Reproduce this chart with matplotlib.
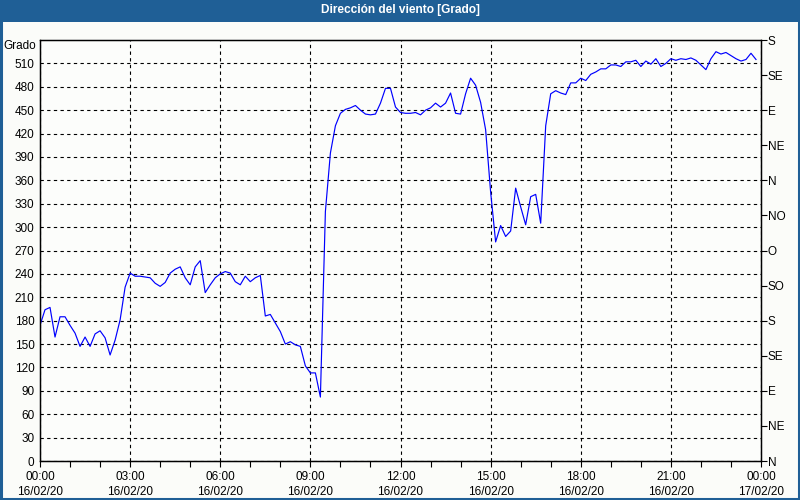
import numpy as np
import pandas as pd
import matplotlib
matplotlib.use("Agg")
import matplotlib.pyplot as plt
import matplotlib.dates as mdates
from matplotlib.patches import Rectangle

title = "Dirección del viento [Grado]"
y_label = "Grado"
start = "2020-02-16 00:00"
# wind direction (degrees, unwrapped), 10-minute samples
direction = [
    174, 194, 197, 159, 185, 185, 174, 164, 147, 159, 147, 163, 167, 158, 136, 155,
    181, 223, 241, 237, 237, 236, 235, 228, 224, 229, 241, 246, 249, 235, 226, 249,
    257, 216, 226, 235, 240, 243, 241, 230, 226, 237, 230, 235, 238, 186, 188, 177,
    166, 150, 153, 149, 147, 122, 113, 113, 82, 320, 395, 430, 446, 451, 453, 456,
    450, 445, 444, 445, 459, 478, 478, 454, 447, 446, 446, 447, 444, 450, 453, 459,
    454, 459, 472, 446, 445, 471, 491, 482, 460, 425, 345, 281, 302, 288, 295, 350,
    326, 303, 339, 342, 305, 430, 471, 475, 472, 470, 485, 485, 491, 488, 496, 499,
    503, 503, 508, 508, 506, 512, 512, 514, 506, 513, 509, 516, 506, 510, 516, 514,
    516, 515, 517, 514, 508, 502, 516, 525, 522, 524, 520, 516, 513, 515, 523, 515,
]
left_ticks = list(range(0, 511, 30))
right_ticks = list(range(0, 541, 45))
right_labels = ["N", "NE", "E", "SE", "S", "SO", "O", "NO", "N", "NE", "E", "SE", "S"]

times = pd.date_range(start, periods=len(direction), freq="10min")
t0 = pd.Timestamp(start)
t1 = t0 + pd.Timedelta(hours=24)

plt.rcParams['font.family'] = ['Liberation Sans', 'DejaVu Sans']
fig = plt.figure(figsize=(8, 5), dpi=100, facecolor="#FBFCF9")
blue_bar = "#1F5F96"
fig.patches.append(Rectangle((0, 1 - 22/500), 1, 22/500, transform=fig.transFigure,
                             facecolor=blue_bar, edgecolor="none", zorder=0))
fig.patches.append(Rectangle((0.001, 0.002), 0.998, 0.997, transform=fig.transFigure,
                             facecolor="none", edgecolor=blue_bar, linewidth=2.2, zorder=0))
fig.text(0.5, 1 - 10.5/500, title, color="white", fontsize=8.6, fontweight="bold",
         ha="center", va="center", family=['Liberation Sans Narrow', 'Liberation Sans'],
         fontstretch="condensed")

ax = fig.add_axes([40/800, 39/500, 721/800, 421/500])
ax.set_facecolor("#FCFDFB")
ax.plot(times, direction, color="#0000FF", linewidth=0.85)

ax.set_xlim(t0, t1)
ax.set_ylim(0, 540)
ax.set_yticks(left_ticks)
ax.tick_params(axis="y", length=0, pad=4, labelsize=8.5)
ax.xaxis.set_major_locator(mdates.HourLocator(byhour=range(0, 24, 3)))
ax.xaxis.set_minor_locator(mdates.HourLocator())
ax.xaxis.set_major_formatter(mdates.DateFormatter("%H:%M\n%d/%m/%y"))
ax.tick_params(axis="x", which="both", length=4, width=0.8, direction="out",
               labelsize=8.5, pad=3.5)
for lbl in ax.get_xticklabels():
    lbl.set_linespacing(1.3)

ax.grid(True, which="major", color="black", linestyle=(0, (3, 3)), linewidth=0.8)
for s in ax.spines.values():
    s.set_linewidth(1.0)

ax2 = ax.twinx()
ax2.set_ylim(0, 540)
ax2.set_yticks(right_ticks)
ax2.set_yticklabels(right_labels)
ax2.tick_params(axis="y", length=4, width=0.8, pad=1, labelsize=8.5)

ax.text(-4/721, 1 - 6/421, y_label, transform=ax.transAxes, ha="right", va="center",
        fontsize=8.5)

fig.savefig("out.png", dpi=100, facecolor=fig.get_facecolor())
